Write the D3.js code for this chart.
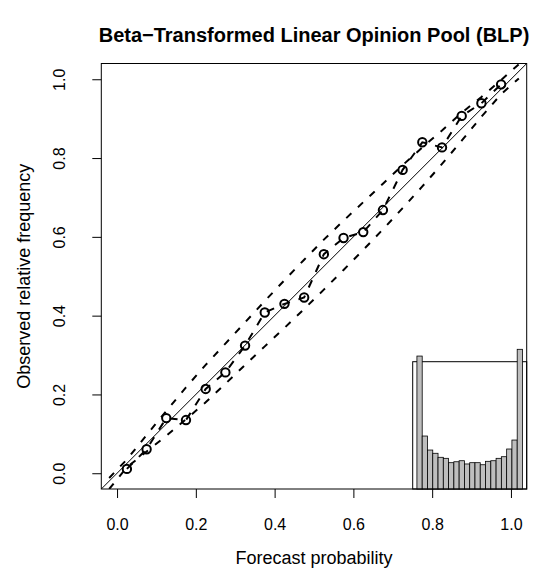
<!DOCTYPE html>
<html>
<head>
<meta charset="utf-8">
<script src="https://cdn.jsdelivr.net/npm/d3@7"></script>
<style>
  html, body { margin: 0; padding: 0; background: #fff; }
  svg { display: block; font-family: "Liberation Sans", Arial, Helvetica, sans-serif; }
</style>
</head>
<body>
<svg id="chart" width="555" height="583"></svg>
<script>
// ---- data ----
const titleText = "Beta\u2212Transformed Linear Opinion Pool (BLP)";
const xLabel = "Forecast probability";
const yLabel = "Observed relative frequency";
const tickValues = [0, 0.2, 0.4, 0.6, 0.8, 1.0];
const tickLabels = ["0.0", "0.2", "0.4", "0.6", "0.8", "1.0"];

// reliability points (bin midpoints vs observed relative frequency)
const binMid = [0.025, 0.075, 0.125, 0.175, 0.225, 0.275, 0.325, 0.375, 0.425, 0.475,
                0.525, 0.575, 0.625, 0.675, 0.725, 0.775, 0.825, 0.875, 0.925, 0.975];
const observed = [0.011, 0.061, 0.140, 0.135, 0.214, 0.256, 0.324, 0.408, 0.430, 0.446,
                  0.556, 0.597, 0.612, 0.668, 0.770, 0.840, 0.827, 0.907, 0.939, 0.987];

// consistency bands
const bandX = [-0.02, 0.025, 0.075, 0.125, 0.175, 0.225, 0.275, 0.325, 0.375, 0.425, 0.475,
               0.525, 0.575, 0.625, 0.675, 0.725, 0.775, 0.825, 0.875, 0.925, 0.975, 1.02];
const bandUpper = [-0.012, 0.035, 0.097, 0.158, 0.218, 0.275, 0.329, 0.383, 0.437, 0.490, 0.542,
                   0.593, 0.641, 0.688, 0.735, 0.782, 0.827, 0.870, 0.915, 0.955, 0.998, 1.038];
const bandLower = [-0.040, 0.015, 0.055, 0.095, 0.137, 0.180, 0.227, 0.275, 0.322, 0.369, 0.417,
                   0.466, 0.516, 0.567, 0.619, 0.673, 0.728, 0.785, 0.844, 0.905, 0.962, 1.002];

// histogram of forecasts (relative frequency per bin of width 0.05)
const histFreq = [0.1556, 0.0620, 0.0456, 0.0418, 0.0371, 0.0359, 0.0308, 0.0319, 0.0331, 0.0293,
                  0.0308, 0.0308, 0.0284, 0.0324, 0.0331, 0.0359, 0.0378, 0.0468, 0.0573, 0.1635];
const histYMax = 0.149;

// ---- layout ----
const svg = d3.select("#chart");
const pLeft = 101.3, pRight = 526.7, pTop = 63.5, pBottom = 489;
const x = d3.scaleLinear().domain([-0.04, 1.04]).range([pLeft, pRight]);
const y = d3.scaleLinear().domain([-0.04, 1.04]).range([pBottom, pTop]);

svg.append("defs").append("clipPath").attr("id", "plotclip")
  .append("rect").attr("x", pLeft).attr("y", pTop).attr("width", pRight - pLeft).attr("height", pBottom - pTop);

const plot = svg.append("g").attr("clip-path", "url(#plotclip)");

// diagonal
plot.append("line")
  .attr("x1", x(-0.04)).attr("y1", y(-0.04)).attr("x2", x(1.04)).attr("y2", y(1.04))
  .attr("stroke", "#000").attr("stroke-width", 1);

// bands
const bandLine = (arr) => d3.line().x((d, i) => x(bandX[i])).y((d) => y(d))(arr);
[bandUpper, bandLower].forEach(arr => {
  plot.append("path").attr("d", bandLine(arr))
    .attr("fill", "none").attr("stroke", "#000").attr("stroke-width", 2)
    .attr("stroke-dasharray", "7,9");
});

// connecting line
const obsLine = d3.line().x((d, i) => x(binMid[i])).y(d => y(d));
plot.append("path").attr("d", obsLine(observed))
  .attr("fill", "none").attr("stroke", "#000").attr("stroke-width", 2)
  .attr("stroke-dasharray", "8,9");

// points
plot.selectAll("circle.pt").data(observed).enter().append("circle")
  .attr("class", "pt")
  .attr("cx", (d, i) => x(binMid[i])).attr("cy", d => y(d))
  .attr("r", 4.2).attr("fill", "none").attr("stroke", "#000").attr("stroke-width", 2);

// inset histogram
const xi = d3.scaleLinear().domain([-0.04, 1.04]).range([412.7, 526.7]);
const yi = d3.scaleLinear().domain([0, histYMax]).range([pBottom, 361.7]);
const inset = svg.append("g");
inset.append("rect")
  .attr("x", xi(-0.04)).attr("y", yi(histYMax))
  .attr("width", xi(1.04) - xi(-0.04)).attr("height", yi(0) - yi(histYMax))
  .attr("fill", "#fff").attr("stroke", "#000").attr("stroke-width", 1);
inset.selectAll("rect.bar").data(histFreq).enter().append("rect")
  .attr("class", "bar")
  .attr("x", (d, i) => xi(i * 0.05))
  .attr("width", xi(0.05) - xi(0))
  .attr("y", d => yi(d))
  .attr("height", d => yi(0) - yi(d))
  .attr("fill", "#bebebe").attr("stroke", "#000").attr("stroke-width", 0.8);

// plot box
svg.append("rect").attr("x", pLeft).attr("y", pTop)
  .attr("width", pRight - pLeft).attr("height", pBottom - pTop)
  .attr("fill", "none").attr("stroke", "#000").attr("stroke-width", 1);

// axes
const xAxis = d3.axisBottom(x).tickValues(tickValues).tickSize(9).tickSizeOuter(0)
  .tickFormat((d, i) => tickLabels[i]);
const gx = svg.append("g").attr("transform", `translate(0,${pBottom})`).call(xAxis);
gx.select(".domain").remove();
gx.selectAll(".tick line").attr("stroke", "#000");
gx.selectAll(".tick text").attr("y", 41).attr("dy", 0)
  .attr("font-size", 16).attr("fill", "#000");

const yAxis = d3.axisLeft(y).tickValues(tickValues).tickSize(9).tickSizeOuter(0)
  .tickFormat((d, i) => tickLabels[i]);
const gy = svg.append("g").attr("transform", `translate(${pLeft},0)`).call(yAxis);
gy.select(".domain").remove();
gy.selectAll(".tick line").attr("stroke", "#000");
gy.selectAll(".tick text")
  .attr("x", null).attr("dy", 0).attr("text-anchor", "middle")
  .attr("transform", `translate(-36,0) rotate(-90)`)
  .attr("font-size", 16).attr("fill", "#000");
gx.attr("font-family", null);
gy.attr("font-family", null);

// titles
svg.append("text").attr("x", (pLeft + pRight) / 2).attr("y", 42)
  .attr("text-anchor", "middle").attr("font-weight", "bold").attr("font-size", 20)
  .text(titleText);
svg.append("text").attr("x", (pLeft + pRight) / 2).attr("y", 564)
  .attr("text-anchor", "middle").attr("font-size", 18).text(xLabel);
svg.append("text")
  .attr("transform", `translate(30,${(pTop + pBottom) / 2}) rotate(-90)`)
  .attr("text-anchor", "middle").attr("font-size", 18).text(yLabel);
</script>
</body>
</html>
